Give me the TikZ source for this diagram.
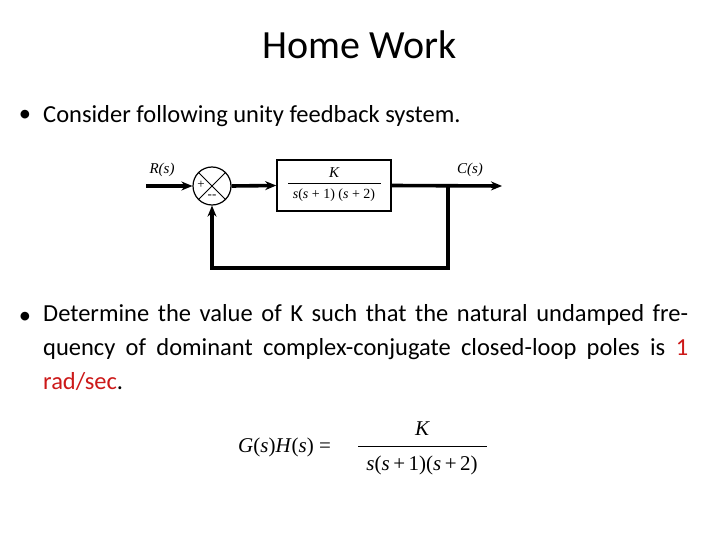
\documentclass[tikz,border=0pt]{standalone}
\usepackage{fontspec}
\setmainfont{Carlito}
\newfontfamily\tms{Liberation Serif}
\usetikzlibrary{arrows.meta}
\begin{document}
\begin{tikzpicture}[x=1pt,y=-1pt,
  sig/.style={line width=3.6pt},
  arr/.style={sig,-{Stealth[length=11pt,width=9pt]}},
  lbl/.style={font=\tms\itshape\fontsize{15}{17}\selectfont},
  txt/.style={font=\fontsize{24.5}{34}\selectfont}]
\useasboundingbox (0,0) rectangle (720,540);
\node (title) at (360,45) {\fontsize{40}{44}\selectfont Home Work};
\node[txt] (d1) at (25,116) {•};
\node[txt,anchor=west,inner sep=0pt] (b1) at (43,116) {Consider following unity feedback system.};
\node[txt] (d2) at (25,318) {•};
\node[txt,anchor=north west,text width=645pt,align=justify,inner sep=0pt] (b2) at (43,304)
 {Determine the value of K such that the natural undamped frequency of dominant complex-conjugate closed-loop poles is \textcolor[rgb]{0.8,0.1,0.1}{1 rad/sec}.\par};
% block diagram
\coordinate (in) at (146,186);
\node[draw,circle,line width=1.2pt,minimum size=38pt,inner sep=0pt] (sum) at (212,186) {};
\draw[line width=0.9pt] (sum.north west) -- (sum.south east) (sum.north east) -- (sum.south west);
\node[font=\tms\fontsize{13}{14}\selectfont] (plus) at (201,185) {+};
\node[font=\tms\fontsize{13}{14}\selectfont] (minus) at (212,197) {--};
\node[draw,line width=1.6pt,minimum width=114pt,minimum height=51pt,inner sep=0pt] (G) at (334,185.5) {};
\node[lbl] (K) at (334,173) {K};
\draw[line width=0.7pt] (288,183) -- (381,183);
\node[font=\tms\fontsize{14}{16}\selectfont] (den) at (334,195) {\textit{s}(\textit{s} + 1) (\textit{s} + 2)};
\coordinate (out) at (502,186);
\coordinate (j) at (448,186);
\coordinate (bl) at (448,268);
\coordinate (br) at (212,268);
\node[lbl] (R) at (162,170) {R(s)};
\node[lbl] (C) at (470,170) {C(s)};
\draw[arr] (in) -- (sum.west);
\draw[arr] (sum.east) -- (G.west);
\draw[arr] (G.east) -- (out);
\draw[arr] (j) -- (bl) -- (br) -- (sum.south);
% formula
\node[font=\tms\fontsize{21}{24}\selectfont,inner sep=0pt,anchor=west] (f) at (238,447) {\textit{G}(\textit{s})\textit{H}(\textit{s}) =};
\node[font=\tms\itshape\fontsize{21}{24}\selectfont] (fk) at (422,429) {K};
\draw[line width=0.9pt] (358,446) -- (487,446);
\node[font=\tms\fontsize{21}{24}\selectfont] (fd) at (422,465) {\textit{s}(\textit{s}\,+\,1)(\textit{s}\,+\,2)};
\end{tikzpicture}
\end{document}
